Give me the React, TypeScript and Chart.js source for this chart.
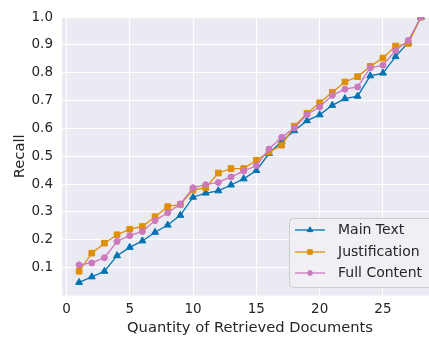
import React, { useEffect, useRef } from 'react';
import { Chart, registerables } from 'chart.js';

Chart.register(...registerables);

const docCounts = [1, 2, 3, 4, 5, 6, 7, 8, 9, 10, 11, 12, 13, 14, 15, 16, 17, 18, 19, 20, 21, 22, 23, 24, 25, 26, 27, 28];
const mainText = [0.047, 0.067, 0.087, 0.143, 0.173, 0.196, 0.227, 0.253, 0.288, 0.353, 0.368, 0.376, 0.397, 0.419, 0.449, 0.51, 0.554, 0.592, 0.628, 0.649, 0.683, 0.707, 0.716, 0.789, 0.799, 0.858, 0.909, 1.0];
const justification = [0.087, 0.152, 0.188, 0.218, 0.238, 0.248, 0.283, 0.319, 0.327, 0.379, 0.387, 0.44, 0.456, 0.456, 0.486, 0.515, 0.54, 0.608, 0.654, 0.692, 0.73, 0.767, 0.786, 0.823, 0.853, 0.896, 0.905, 1.0];
const fullContent = [0.11, 0.117, 0.136, 0.194, 0.215, 0.23, 0.269, 0.297, 0.329, 0.387, 0.398, 0.406, 0.426, 0.447, 0.467, 0.526, 0.568, 0.602, 0.65, 0.677, 0.719, 0.741, 0.749, 0.818, 0.827, 0.88, 0.916, 1.0];
const seriesNames = ['Main Text', 'Justification', 'Full Content'];
const seriesColors = ['#0173B2', '#DE8F05', '#CC78BC'];
const seriesMarkers = ['triangle', 'rect', 'circle'];
const seriesRadius = [4, 4, 3];
const xTicks = [0, 5, 10, 15, 20, 25];
const yTicks = [0.1, 0.2, 0.3, 0.4, 0.5, 0.6, 0.7, 0.8, 0.9, 1.0];
const xTitle = 'Quantity of Retrieved Documents';
const yTitle = 'Recall';

const FONT = "'DejaVu Sans', sans-serif";
const TEXT = '#262626';
const CANVAS_W = 460;
const CANVAS_H = 340;

const bgPlugin = {
  id: 'bgPlugin',
  beforeDraw(chart: any) {
    const { ctx, chartArea } = chart;
    ctx.save();
    ctx.fillStyle = '#EAEAF2';
    ctx.fillRect(chartArea.left, chartArea.top, chartArea.right - chartArea.left, chartArea.bottom - chartArea.top);
    ctx.restore();
  },
};

function drawMarker(ctx: CanvasRenderingContext2D, style: string, r: number, x: number, y: number) {
  ctx.beginPath();
  if (style === 'triangle') {
    const h = r;
    const s = r * Math.sin(Math.PI / 3);
    ctx.moveTo(x, y - h);
    ctx.lineTo(x + s, y + h / 2);
    ctx.lineTo(x - s, y + h / 2);
    ctx.closePath();
  } else if (style === 'rect') {
    const s = r * Math.SQRT1_2;
    ctx.rect(x - s, y - s, 2 * s, 2 * s);
  } else {
    ctx.arc(x, y, r, 0, Math.PI * 2);
  }
  ctx.fill();
  ctx.stroke();
}

const legendPlugin = {
  id: 'insideLegend',
  afterDatasetsDraw(chart: any) {
    const { ctx, chartArea } = chart;
    const bx = chartArea.right - 149;
    const by = chartArea.bottom - 77.5;
    const bw = 170;
    const bh = 69;
    ctx.save();
    ctx.beginPath();
    ctx.roundRect(bx + 0.5, by + 0.5, bw, bh, 4);
    ctx.fillStyle = 'rgba(240,240,246,0.85)';
    ctx.fill();
    ctx.strokeStyle = '#CCCCCC';
    ctx.lineWidth = 1;
    ctx.stroke();
    const rowY = [12, 34, 55];
    chart.data.datasets.forEach((ds: any, i: number) => {
      const y = by + rowY[i];
      ctx.beginPath();
      ctx.strokeStyle = ds.borderColor;
      ctx.lineWidth = 1.3;
      ctx.moveTo(bx + 6, y);
      ctx.lineTo(bx + 36, y);
      ctx.stroke();
      ctx.fillStyle = ds.backgroundColor;
      ctx.strokeStyle = ds.borderColor;
      ctx.lineWidth = 1;
      drawMarker(ctx, ds.pointStyle, ds.pointRadius * 0.8, bx + 21, y);
      ctx.fillStyle = TEXT;
      ctx.font = `14px ${FONT}`;
      ctx.textBaseline = 'middle';
      ctx.textAlign = 'left';
      ctx.fillText(ds.label, bx + 49, y + 0.5);
    });
    ctx.restore();
  },
};

export default function App() {
  const ref = useRef<HTMLCanvasElement | null>(null);

  useEffect(() => {
    if (!ref.current) return;
    const seriesData = [mainText, justification, fullContent];
    const chart = new Chart(ref.current, {
      type: 'line',
      data: {
        datasets: seriesData.map((vals, i) => ({
          label: seriesNames[i],
          data: docCounts.map((x, j) => ({ x, y: vals[j] })),
          borderColor: seriesColors[i],
          backgroundColor: seriesColors[i],
          pointStyle: seriesMarkers[i] as any,
          pointRadius: seriesRadius[i],
          pointBorderWidth: 1,
          borderWidth: 1.3,
          tension: 0,
          order: 3 - i,
        })),
      },
      options: {
        animation: false,
        responsive: false,
        devicePixelRatio: 1,
        layout: { padding: { top: 15, right: CANVAS_W - 438, left: 0, bottom: 0 } },
        plugins: {
          legend: { display: false },
          tooltip: { enabled: false },
        },
        scales: {
          x: {
            type: 'linear',
            min: -0.35,
            max: 29.35,
            afterBuildTicks: (s: any) => {
              s.ticks = xTicks.map((v) => ({ value: v }));
            },
            afterFit: (s: any) => {
              s.height = 44.5;
            },
            grid: { color: '#FFFFFF', lineWidth: 1, drawTicks: false },
            border: { display: false },
            ticks: {
              color: TEXT,
              font: { family: FONT, size: 13.5 },
              padding: 6,
              maxRotation: 0,
              autoSkip: false,
              callback: (v: any) => String(v),
            },
            title: {
              display: true,
              text: xTitle,
              color: TEXT,
              font: { family: FONT, size: 14.7 },
              padding: { top: 0, bottom: 3 },
            },
          },
          y: {
            type: 'linear',
            min: 0,
            max: 1,
            afterBuildTicks: (s: any) => {
              s.ticks = yTicks.map((v) => ({ value: v }));
            },
            afterFit: (s: any) => {
              s.width = 62;
            },
            grid: { color: '#FFFFFF', lineWidth: 1, drawTicks: false },
            border: { display: false },
            ticks: {
              color: TEXT,
              font: { family: FONT, size: 13.5 },
              padding: 9,
              autoSkip: false,
              callback: (v: any) => Number(v).toFixed(1),
            },
            title: {
              display: true,
              text: yTitle,
              color: TEXT,
              font: { family: FONT, size: 14.7 },
              padding: { top: 11, bottom: 0 },
            },
          },
        },
      },
      plugins: [bgPlugin, legendPlugin],
    });
    return () => chart.destroy();
  }, []);

  return (
    <div style={{ position: 'fixed', left: 0, top: 0, width: 429, height: 340, overflow: 'hidden', background: '#fff' }}>
      <canvas ref={ref} width={CANVAS_W} height={CANVAS_H} style={{ width: CANVAS_W, height: CANVAS_H, display: 'block' }} />
    </div>
  );
}
